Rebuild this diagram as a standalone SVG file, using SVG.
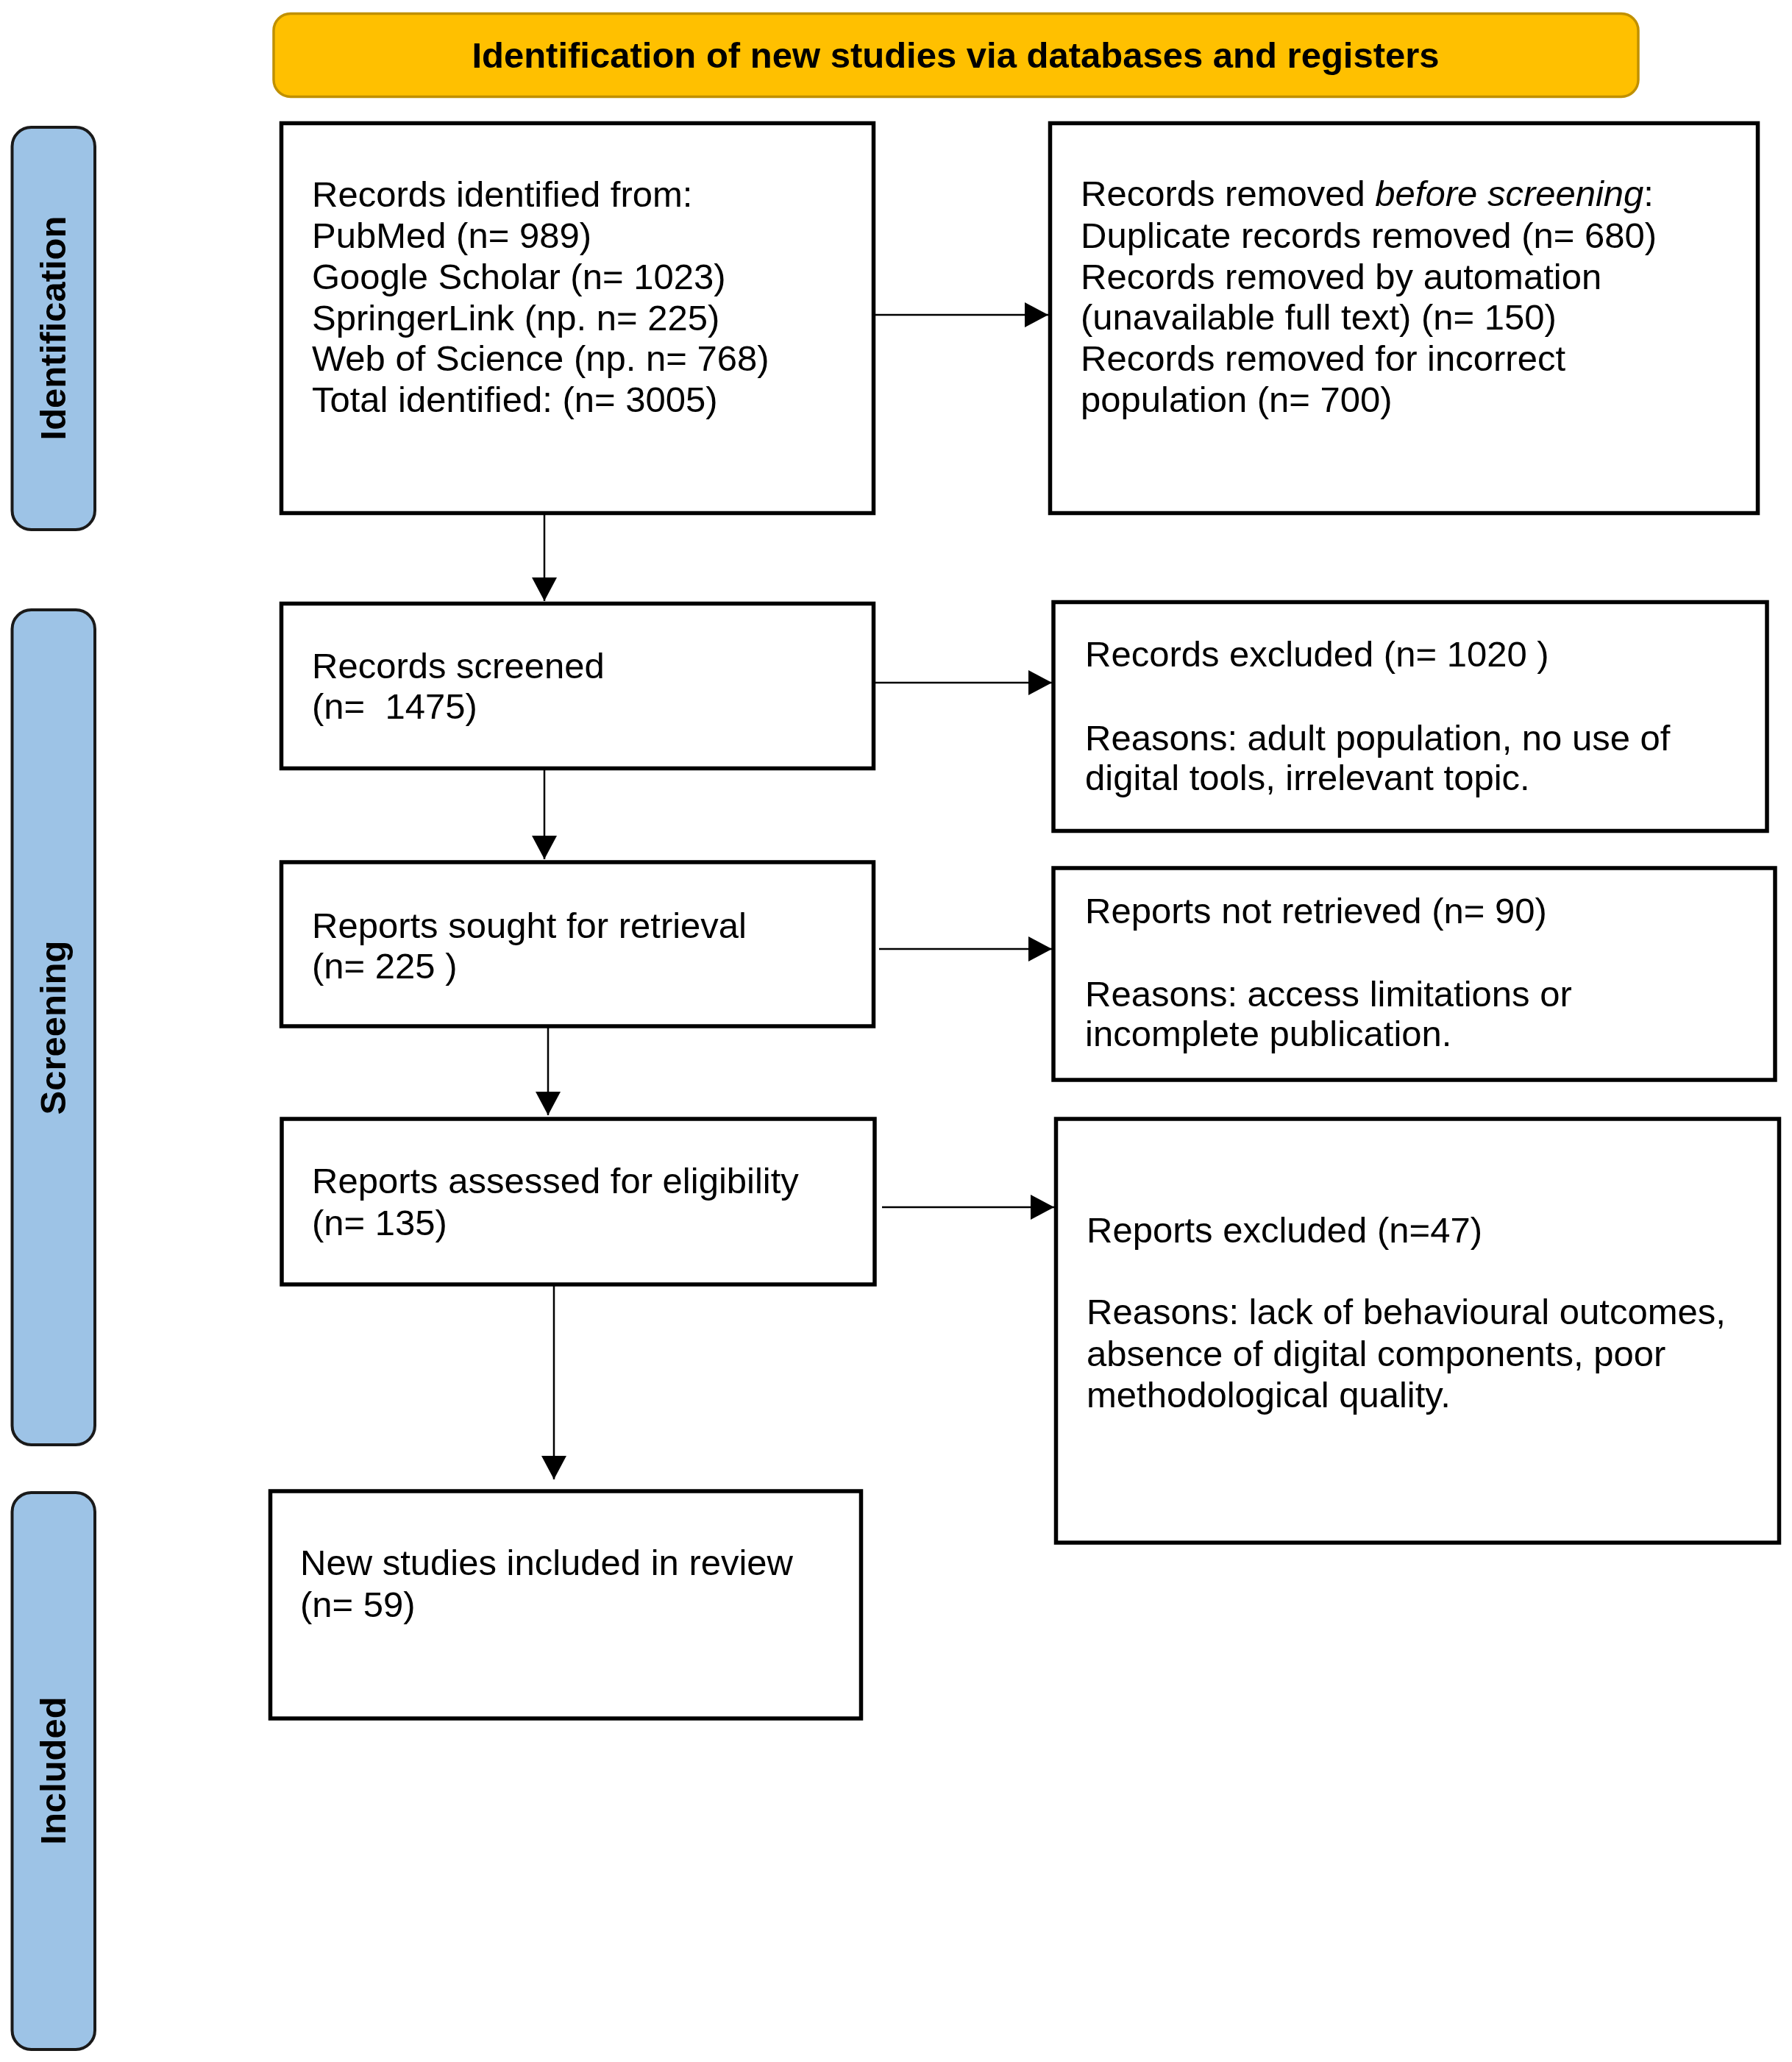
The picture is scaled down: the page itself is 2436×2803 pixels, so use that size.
<svg xmlns="http://www.w3.org/2000/svg" width="2436" height="2803" viewBox="0 0 2436 2803">
<defs>
<marker id="ah" markerUnits="userSpaceOnUse" markerWidth="32" markerHeight="34" refX="32" refY="17" orient="auto">
<path d="M0,0 L32,17 L0,34 z" fill="#000"/>
</marker>
<style>
.box{fill:#fff;stroke:#000;stroke-width:5.5}
.bar{fill:#9DC3E6;stroke:#1a1a1a;stroke-width:4}
.hdr{fill:#FFC000;stroke:#C09000;stroke-width:3.5}
.t{font-family:"Liberation Sans",Arial,sans-serif;font-size:49px;fill:#000}
.b{font-family:"Liberation Sans",Arial,sans-serif;font-size:49px;font-weight:bold;fill:#000}
.c{stroke:#000;stroke-width:2.5;fill:none;marker-end:url(#ah)}
</style>
</defs>
<rect width="2436" height="2803" fill="#fff"/>

<g id="header">
<rect class="hdr" x="372" y="18.5" width="1855" height="113" rx="23"/>
<text class="b" x="1299" y="92" text-anchor="middle">Identification of new studies via databases and registers</text>
</g>

<g id="bar-identification">
<rect class="bar" x="16.5" y="173" width="112.5" height="547" rx="26"/>
<text class="b" transform="translate(89,446) rotate(-90)" text-anchor="middle">Identification</text>
</g>
<g id="bar-screening">
<rect class="bar" x="16.5" y="829" width="112.5" height="1135" rx="26"/>
<text class="b" transform="translate(89,1397) rotate(-90)" text-anchor="middle">Screening</text>
</g>
<g id="bar-included">
<rect class="bar" x="16.5" y="2029" width="112.5" height="757" rx="26"/>
<text class="b" transform="translate(89,2407) rotate(-90)" text-anchor="middle">Included</text>
</g>

<g id="connectors">
<line class="c" x1="740" y1="699" x2="740" y2="817"/>
<line class="c" x1="740" y1="1047" x2="740" y2="1168"/>
<line class="c" x1="745" y1="1397" x2="745" y2="1516"/>
<line class="c" x1="753" y1="1748" x2="753" y2="2011"/>
<line class="c" x1="1189" y1="428" x2="1425" y2="428"/>
<line class="c" x1="1189" y1="928" x2="1430" y2="928"/>
<line class="c" x1="1195" y1="1290" x2="1430" y2="1290"/>
<line class="c" x1="1199" y1="1641" x2="1433" y2="1641"/>
</g>

<g id="records-identified">
<rect class="box" x="382.5" y="167.5" width="805" height="530"/>
<text class="t" x="424" y="281">Records identified from:</text>
<text class="t" x="424" y="337">PubMed (n= 989)</text>
<text class="t" x="424" y="393">Google Scholar (n= 1023)</text>
<text class="t" x="424" y="449">SpringerLink (np. n= 225)</text>
<text class="t" x="424" y="504">Web of Science (np. n= 768)</text>
<text class="t" x="424" y="560">Total identified: (n= 3005)</text>
</g>

<g id="records-removed">
<rect class="box" x="1427.5" y="167.5" width="962" height="530"/>
<text class="t" x="1469" y="280">Records removed <tspan font-style="italic">before screening</tspan>:</text>
<text class="t" x="1469" y="337">Duplicate records removed (n= 680)</text>
<text class="t" x="1469" y="393">Records removed by automation</text>
<text class="t" x="1469" y="448">(unavailable full text) (n= 150)</text>
<text class="t" x="1469" y="504">Records removed for incorrect</text>
<text class="t" x="1469" y="560">population (n= 700)</text>
</g>

<g id="records-screened">
<rect class="box" x="382.5" y="820.5" width="805" height="224"/>
<text class="t" x="424" y="922">Records screened</text>
<text class="t" x="424" y="977" xml:space="preserve">(n=  1475)</text>
</g>

<g id="records-excluded">
<rect class="box" x="1432" y="818.5" width="970" height="311"/>
<text class="t" x="1475" y="906">Records excluded (n= 1020 )</text>
<text class="t" x="1475" y="1020">Reasons: adult population, no use of</text>
<text class="t" x="1475" y="1074">digital tools, irrelevant topic.</text>
</g>

<g id="reports-sought">
<rect class="box" x="382.5" y="1172" width="805" height="223"/>
<text class="t" x="424" y="1275">Reports sought for retrieval</text>
<text class="t" x="424" y="1330">(n= 225 )</text>
</g>

<g id="reports-not-retrieved">
<rect class="box" x="1432" y="1180" width="981" height="288"/>
<text class="t" x="1475" y="1255">Reports not retrieved (n= 90)</text>
<text class="t" x="1475" y="1368">Reasons: access limitations or</text>
<text class="t" x="1475" y="1422">incomplete publication.</text>
</g>

<g id="reports-assessed">
<rect class="box" x="383" y="1521" width="806" height="225"/>
<text class="t" x="424" y="1622">Reports assessed for eligibility</text>
<text class="t" x="424" y="1679">(n= 135)</text>
</g>

<g id="reports-excluded">
<rect class="box" x="1435.5" y="1521" width="983" height="576"/>
<text class="t" x="1477" y="1689">Reports excluded (n=47)</text>
<text class="t" x="1477" y="1800">Reasons: lack of behavioural outcomes,</text>
<text class="t" x="1477" y="1857">absence of digital components, poor</text>
<text class="t" x="1477" y="1913">methodological quality.</text>
</g>

<g id="studies-included">
<rect class="box" x="367.5" y="2027" width="803" height="309"/>
<text class="t" x="408" y="2141">New studies included in review</text>
<text class="t" x="408" y="2198">(n= 59)</text>
</g>
</svg>
